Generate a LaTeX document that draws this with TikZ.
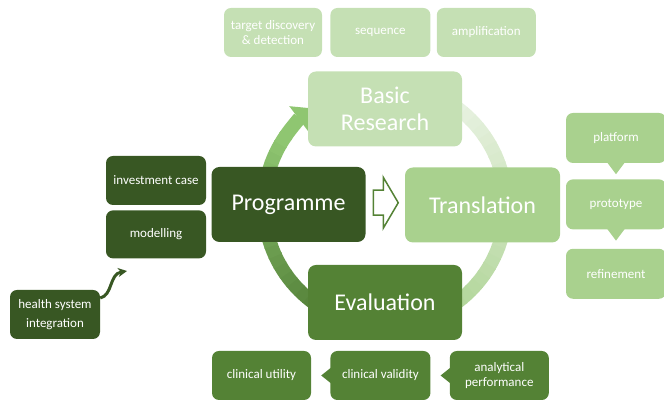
\documentclass[tikz,border=0pt]{standalone}
\usepackage{fontspec}
\setmainfont{Carlito}
\usetikzlibrary{positioning, arrows.meta, calc}
\definecolor{vertpale}{HTML}{C5E0B4}
\definecolor{vertclair}{HTML}{A9D18E}
\definecolor{vertmoyen}{HTML}{548235}
\definecolor{vertfonce}{HTML}{385723}
\definecolor{anneaubas}{HTML}{4E7A33}
\definecolor{anneauhaut}{HTML}{8FC671}
\definecolor{anneaupale}{HTML}{EAF3E4}

\begin{document}
\begin{tikzpicture}[x=1pt, y=1pt, >=Stealth, node distance=6pt,
    boite/.style={rounded corners=8pt, text=white, align=center, inner sep=0pt},
    grande/.style={boite, minimum width=154pt, minimum height=75pt, font=\fontsize{24}{27}\selectfont},
    petite/.style={boite, rounded corners=7pt, minimum width=99pt, minimum height=49pt, font=\fontsize{13}{15}\selectfont}]

    \useasboundingbox (0,0) rectangle (664,403);

    % Anneau (cote gauche, vers Basic Research)
    \foreach \i in {0,...,20} {
        \pgfmathsetmacro\a{250-5*\i}
        \pgfmathsetmacro\p{100*\i/20}
        \draw [line width=14pt, color=anneauhaut!\p!anneaubas] ([shift={(\a:121)}]385,198) arc [start angle=\a, end angle=\a-5.5, radius=121];
    }
    \draw [line width=14pt, color=anneauhaut, -{Triangle[width=30pt, length=17pt]}] ([shift={(146:121)}]385,198) arc [start angle=146, end angle=127, radius=121];

    % Anneau (cote droit, vers Evaluation)
    \foreach \i in {0,...,26} {
        \pgfmathsetmacro\a{60-5*\i}
        \pgfmathsetmacro\p{100*\i/26}
        \draw [line width=14pt, color=vertclair!\p!anneaupale] ([shift={(\a:121)}]385,198) arc [start angle=\a, end angle=\a-5.5, radius=121];
    }

    % Noeuds principaux
    \node [grande, fill=vertpale] (basic) at (385,294) {Basic\\Research};
    \node [grande, fill=vertfonce] (prog) at (288.5,198.5) {Programme};
    \node [grande, fill=vertclair, minimum width=155pt] (trans) at (482.5,198) {Translation};
    \node [grande, fill=vertmoyen] (eval) at (385,100.5) {Evaluation};

    % Fleche creuse
    \coordinate (m) at ($(prog.east)!0.5!(trans.west)+(0,2)$);
    \draw [vertmoyen, line width=1.5pt, fill=white, line join=miter]
        ($(m)+(-12,-12.5)$) -- ($(m)+(-2,-12.5)$) -- ($(m)+(-2,-25.5)$) -- ($(m)+(13,0)$)
        -- ($(m)+(-2,25.5)$) -- ($(m)+(-2,12.5)$) -- ($(m)+(-12,12.5)$) -- cycle;

    % Basic Research
    \node [petite, fill=vertpale, minimum width=98pt] (cible) at (273,370.5) {target discovery\\\& detection};
    \node [petite, fill=vertpale, minimum width=100pt, right=8pt of cible] (seq) {sequence};
    \node [petite, fill=vertpale, right=of seq] (ampli) {amplification};

    % Programme
    \node [petite, fill=vertfonce, minimum width=100pt] (invest) at (156,222.5) {investment case};
    \node [petite, fill=vertfonce, minimum width=100pt, minimum height=48pt, below=5pt of invest] (model) {modelling};
    \node [petite, fill=vertfonce, minimum width=90pt, font=\fontsize{13}{19}\selectfont] (sante) at (55,88.5) {health system\\integration};
    \coordinate (boucle) at (127,132);
    \draw [vertfonce, line width=3pt, -{Stealth[length=9pt, width=9pt]}] (sante.20) .. controls (113,108) and (109,129) .. (boucle);

    % Translation
    \node [petite, fill=vertclair, minimum width=100pt, minimum height=50pt] (plat) at (616,265) {platform};
    \node [petite, fill=vertclair, minimum width=100pt, minimum height=50pt, below=16pt of plat] (proto) {prototype};
    \node [petite, fill=vertclair, minimum width=100pt, minimum height=50pt, below=19pt of proto] (raffin) {refinement};
    \fill [vertclair] ($(plat.south)+(-9,1)$) -- ($(plat.south)+(0,-11)$) -- ($(plat.south)+(9,1)$) -- cycle;
    \fill [vertclair] ($(proto.south)+(-9,1)$) -- ($(proto.south)+(0,-11)$) -- ($(proto.south)+(9,1)$) -- cycle;

    % Evaluation
    \node [petite, fill=vertmoyen] (util) at (261.5,27.5) {clinical utility};
    \node [petite, fill=vertmoyen, minimum width=100pt, right=19pt of util] (valid) {clinical validity};
    \node [petite, fill=vertmoyen, right=19pt of valid] (analyt) {analytical\\performance};
    \fill [vertmoyen] ($(valid.west)+(1,-8)$) -- ($(valid.west)+(-9,0)$) -- ($(valid.west)+(1,8)$) -- cycle;
    \fill [vertmoyen] ($(analyt.west)+(1,-8)$) -- ($(analyt.west)+(-9,0)$) -- ($(analyt.west)+(1,8)$) -- cycle;

\end{tikzpicture}
\end{document}
